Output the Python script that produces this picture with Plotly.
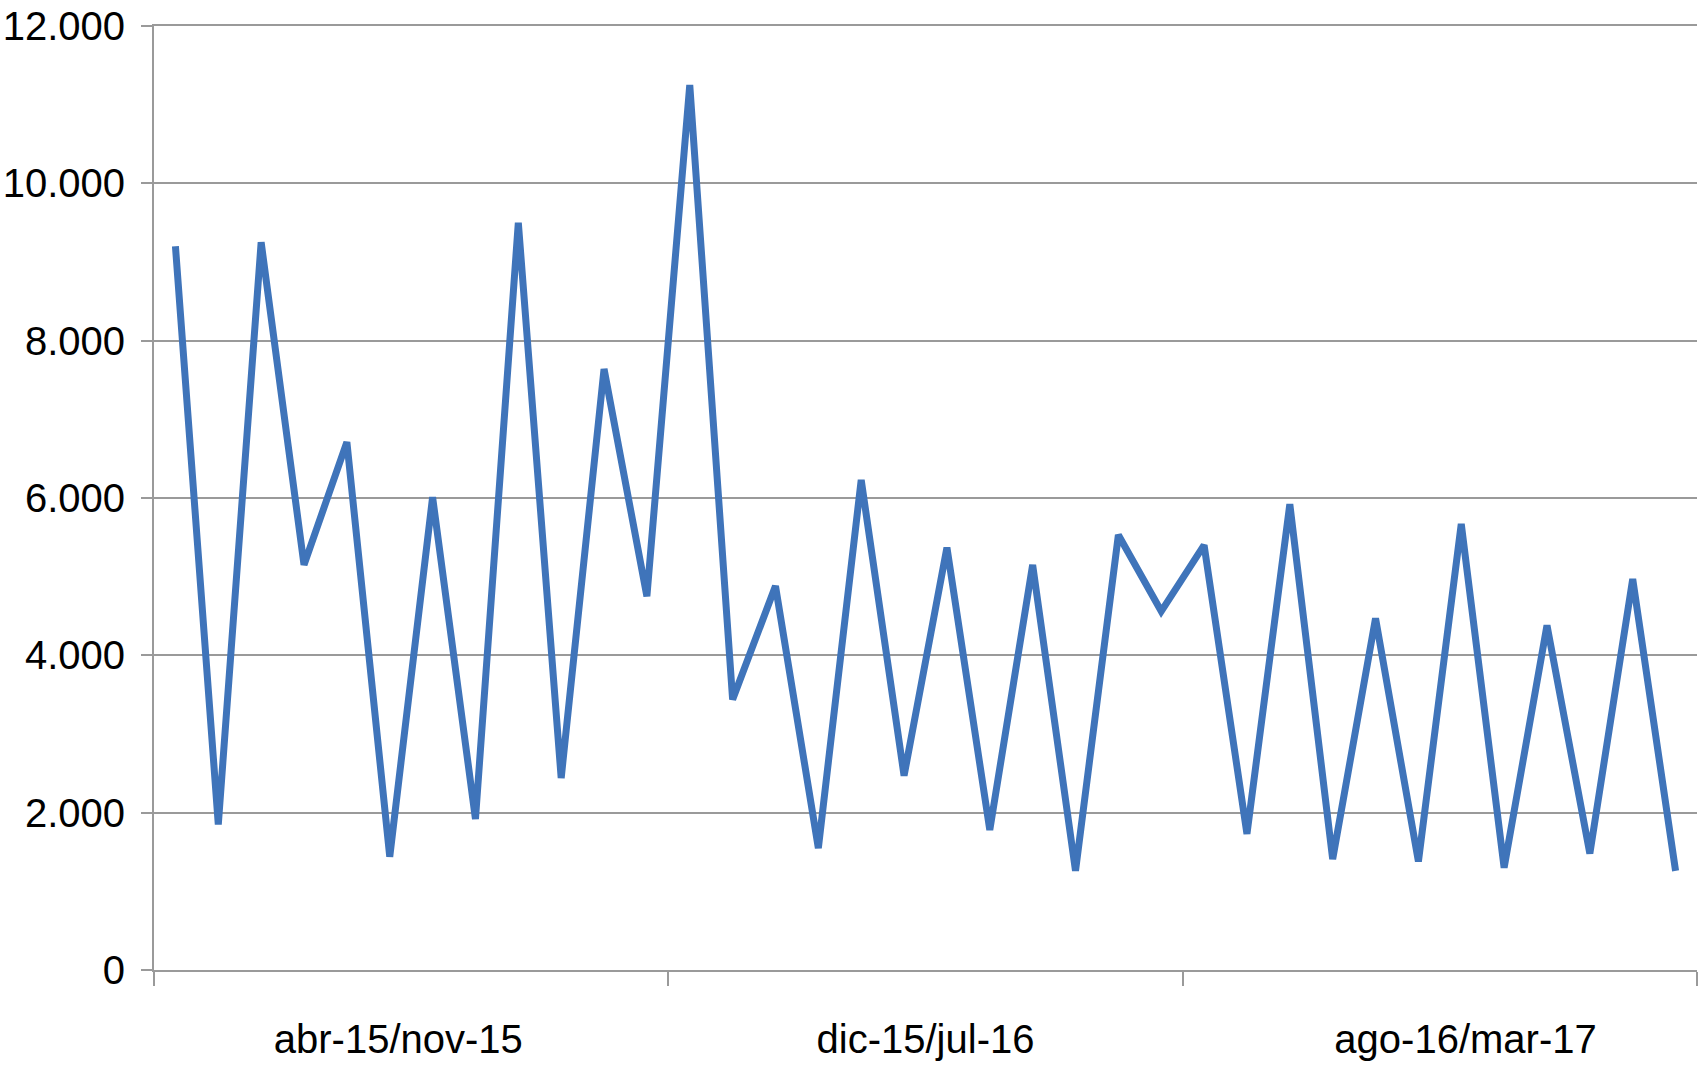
import plotly.graph_objects as go

# Data
periods = ["abr-15/nov-15", "dic-15/jul-16", "ago-16/mar-17"]
values = [
    9200, 1850, 9250, 5150, 6710, 1440, 6010, 1920, 9500, 2440, 7640, 4750,
    11250, 3440, 4880, 1550, 6230, 2470, 5370, 1780, 5150, 1260, 5530, 4560,
    5400, 1730, 5920, 1410, 4470, 1380, 5670, 1300, 4380, 1480, 4970, 1260,
]
y_ticks = [0, 2000, 4000, 6000, 8000, 10000, 12000]

n = len(values)
per_group = n // len(periods)
x = list(range(n))

label_pos = [5.2, 17.5, 30.1]
boundaries = [i * per_group - 0.5 for i in range(len(periods) + 1)]

fig = go.Figure()
fig.add_trace(go.Scatter(
    x=x, y=values, mode="lines",
    line=dict(color="#3F74BA", width=7),
    hoverinfo="y", showlegend=False,
))

font = dict(family="Liberation Sans, Arial, sans-serif", size=40, color="#000000")

fig.update_layout(
    width=1700, height=1073,
    margin=dict(l=154, r=3, t=26, b=103, autoexpand=False),
    paper_bgcolor="white", plot_bgcolor="white",
    separators=",.",
    font=font,
    xaxis=dict(
        range=[-0.5, n - 0.5],
        automargin=False,
        tickmode="array", tickvals=label_pos, ticktext=periods,
        ticks="", showgrid=False, zeroline=False,
        showline=True, mirror=True, linecolor="#9A9A9A", linewidth=2,
        ticklabelstandoff=33,
        tickfont=font,
        minor=dict(tickmode="array", tickvals=boundaries, ticks="outside",
                   ticklen=14, tickwidth=2, tickcolor="#9A9A9A", showgrid=False),
    ),
    yaxis=dict(
        range=[0, 12000],
        automargin=False,
        tickmode="array", tickvals=y_ticks,
        tickformat=",d",
        showgrid=True, gridcolor="#9A9A9A", gridwidth=2,
        zeroline=False,
        showline=True, linecolor="#9A9A9A", linewidth=2,
        ticks="outside", ticklen=11, tickwidth=2, tickcolor="#9A9A9A",
        ticklabelstandoff=8,
        ticklabeloverflow="allow",
        tickfont=font,
    ),
)

fig.write_html(
    "out.html",
    config={"displayModeBar": False},
    post_script="document.body.style.margin='0px';",
)
